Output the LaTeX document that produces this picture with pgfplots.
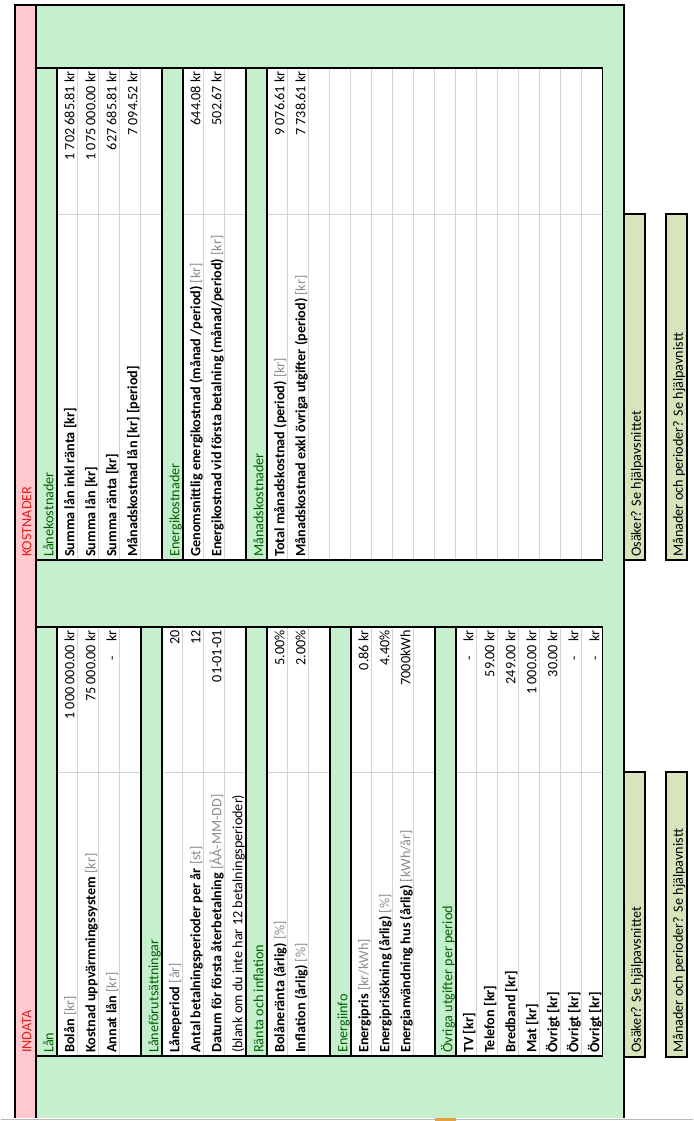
\documentclass[border=0pt]{standalone}
\usepackage{fontspec}
\setmainfont{Carlito}
\usepackage{pgfplots}
\usepackage{pgfplotstable}
\pgfplotsset{compat=1.18}

\definecolor{bggreen}{HTML}{C6EFCE}
\definecolor{hdrtext}{HTML}{006100}
\definecolor{pinkfill}{HTML}{FFC7CE}
\definecolor{redtext}{HTML}{E0201A}
\definecolor{boxfill}{HTML}{D8E4BC}
\definecolor{gridgray}{HTML}{D4D4D4}
\definecolor{unitgray}{HTML}{8C8C8C}
\definecolor{selorange}{HTML}{E3A23B}

\newcommand{\cellfont}{\fontsize{14.2}{16}\selectfont}
\newcommand{\nollkr}{-\hspace{15pt}kr}
\newcommand{\unit}[1]{{\mdseries\color{unitgray}#1}}
% label: baseline x, start y, text
\newcommand{\lab}[3]{\node[rotate=90,anchor=base west,inner sep=0pt,font=\cellfont\bfseries] at (#1,#2) {#3};}
\newcommand{\hdr}[3]{\node[rotate=90,anchor=base west,inner sep=0pt,font=\cellfont,text=hdrtext] at (#1,#2) {#3};}

% values: baseline x (row), end y, text
\pgfplotstableread[col sep=semicolon]{
x;y;v
73.5;71;1 702 685.81 kr
94.5;71;1 075 000.00 kr
115.5;71;627 685.81 kr
136.5;71;7 094.52 kr
199.5;71;644.08 kr
220.5;71;502.67 kr
283.5;71;9 076.61 kr
304.5;71;7 738.61 kr
}\kostnader

\pgfplotstableread[col sep=semicolon]{
x;y;v
73.5;630;1 000 000.00 kr
94.5;630;75 000.00 kr
115.5;630;\nollkr
178.5;630;20
199.5;630;12
220.5;630;01-01-01
283.5;630;5.00\%
304.5;630;2.00\%
367.5;630;0.86 kr
388.5;630;4.40\%
409.5;630;7000kWh
472.5;630;\nollkr
493.5;630;59.00 kr
514.5;630;249.00 kr
535.5;630;1 000.00 kr
556.5;630;30.00 kr
577.5;630;\nollkr
598.5;630;\nollkr
}\indata

\begin{document}
\begin{tikzpicture}
\begin{axis}[
    scale only axis,
    width=692pt, height=1121pt,
    xmin=0, xmax=692, ymin=0, ymax=1121,
    y dir=reverse,
    hide axis, clip=false,
    every node near coord/.style={rotate=90, anchor=base east, inner sep=0pt, font=\cellfont},
]
% background
\fill[white] (0,0) rectangle (692,1121);
\fill[pinkfill] (14,5) rectangle (35,1118);
\fill[bggreen] (35,5) rectangle (623,1118);
% table bodies
\fill[white] (35,68) rectangle (602,560);
\fill[white] (35,627) rectangle (602,1056);
% light grid
\pgfplotsinvokeforeach{56,77,98,119,140,161,182,203,224,245,266,287,308,329,350,371,392,413,434,455,476,497,518,539,560,581}{
  \draw[gridgray, line width=1pt] (#1,68) -- (#1,560);
  \draw[gridgray, line width=1pt] (#1,627) -- (#1,1056);
}
\draw[gridgray, line width=1pt] (35,214) -- (602,214);
\draw[gridgray, line width=1pt] (35,772) -- (602,772);
% section header rows
\pgfplotsinvokeforeach{35,161,245}{
  \fill[bggreen] (#1,68) rectangle ({#1+21},560);
  \draw[black, line width=1.5pt] (#1,68) -- (#1,560);
  \draw[black, line width=1.5pt] ({#1+21},68) -- ({#1+21},560);
}
\pgfplotsinvokeforeach{35,140,245,329,434}{
  \fill[bggreen] (#1,627) rectangle ({#1+21},1056);
  \draw[black, line width=1.5pt] (#1,627) -- (#1,1056);
  \draw[black, line width=1.5pt] ({#1+21},627) -- ({#1+21},1056);
}
% table frames
\draw[black, line width=1.4pt] (35,68) rectangle (602,560);
\draw[black, line width=1.4pt] (35,627) rectangle (602,1056);
% outer frame
\draw[black, line width=1.6pt] (14,1118) -- (14,5) -- (623,5) -- (623,1118);
\draw[black, line width=1.6pt] (35,5) -- (35,1118);
% help boxes
\filldraw[fill=boxfill, draw=black, line width=2.4pt] (623,214) rectangle (644,560);
\filldraw[fill=boxfill, draw=black, line width=2.4pt] (665,214) rectangle (686,560);
\filldraw[fill=boxfill, draw=black, line width=2.4pt] (623,772) rectangle (644,1057);
\filldraw[fill=boxfill, draw=black, line width=2.4pt] (665,772) rectangle (686,1057);
% window edge
\draw[gray!55, line width=1.5pt] (0,1119.5) -- (692,1119.5);
\fill[selorange] (434,1118) rectangle (455,1121);

% titles
\node[rotate=90,anchor=base west,inner sep=0pt,font=\cellfont,text=redtext] at (30.5,557) {KOSTNADER};
\node[rotate=90,anchor=base west,inner sep=0pt,font=\cellfont,text=redtext] at (30.5,1053) {INDATA};

% KOSTNADER labels
\hdr{52.5}{557}{Lånekostnader}
\lab{73.5}{557}{Summa lån inkl ränta [kr]}
\lab{94.5}{557}{Summa lån [kr]}
\lab{115.5}{557}{Summa ränta [kr]}
\lab{136.5}{557}{Månadskostnad lån [kr] [period]}
\hdr{178.5}{557}{Energikostnader}
\lab{199.5}{557}{Genomsnittlig energikostnad (månad /period) \unit{[kr]}}
\lab{220.5}{557}{Energikostnad vid första betalning (månad/period) \unit{[kr]}}
\hdr{262.5}{557}{Månadskostnader}
\lab{283.5}{557}{Total månadskostnad (period) \unit{[kr]}}
\lab{304.5}{557}{Månadskostnad exkl övriga utgifter (period) \unit{[kr]}}

% INDATA labels
\hdr{52.5}{1053}{Lån}
\lab{73.5}{1053}{Bolån \unit{[kr]}}
\lab{94.5}{1053}{Kostnad uppvärmningssystem \unit{[kr]}}
\lab{115.5}{1053}{Annat lån \unit{[kr]}}
\hdr{157.5}{1053}{Låneförutsättningar}
\lab{178.5}{1053}{Låneperiod \unit{[år]}}
\lab{199.5}{1053}{Antal betalningsperioder per år \unit{[st]}}
\lab{220.5}{1053}{Datum för första återbetalning \unit{[ÅÅ-MM-DD]}}
\node[rotate=90,anchor=base west,inner sep=0pt,font=\cellfont] at (241.5,1053) {(blank om du inte har 12 betalningsperioder)};
\hdr{262.5}{1053}{Ränta och inflation}
\lab{283.5}{1053}{Bolåneränta (årlig) \unit{[\%]}}
\lab{304.5}{1053}{Inflation (årlig) \unit{[\%]}}
\hdr{346.5}{1053}{Energiinfo}
\lab{367.5}{1053}{Energipris \unit{[kr/kWh]}}
\lab{388.5}{1053}{Energiprisökning (årlig) \unit{[\%]}}
\lab{409.5}{1053}{Energianvändning hus (årlig) \unit{[kWh/år]}}
\hdr{451.5}{1053}{Övriga utgifter per period}
\lab{472.5}{1053}{TV [kr]}
\lab{493.5}{1053}{Telefon [kr]}
\lab{514.5}{1053}{Bredband [kr]}
\lab{535.5}{1053}{Mat [kr]}
\lab{556.5}{1053}{Övrigt [kr]}
\lab{577.5}{1053}{Övrigt [kr]}
\lab{598.5}{1053}{Övrigt [kr]}

% help box texts
\node[rotate=90,anchor=base west,inner sep=0pt,font=\cellfont] at (640,557) {Osäker? Se hjälpavsnittet};
\node[rotate=90,anchor=base west,inner sep=0pt,font=\cellfont] at (682,557) {Månader och perioder? Se hjälpavnistt};
\node[rotate=90,anchor=base west,inner sep=0pt,font=\cellfont] at (640,1053) {Osäker? Se hjälpavsnittet};
\node[rotate=90,anchor=base west,inner sep=0pt,font=\cellfont] at (682,1053) {Månader och perioder? Se hjälpavnistt};

% values
\addplot[draw=none, mark=none, nodes near coords, point meta=explicit symbolic]
  table[x=x, y=y, meta=v] {\kostnader};
\addplot[draw=none, mark=none, nodes near coords, point meta=explicit symbolic]
  table[x=x, y=y, meta=v] {\indata};
\end{axis}
\end{tikzpicture}
\end{document}
